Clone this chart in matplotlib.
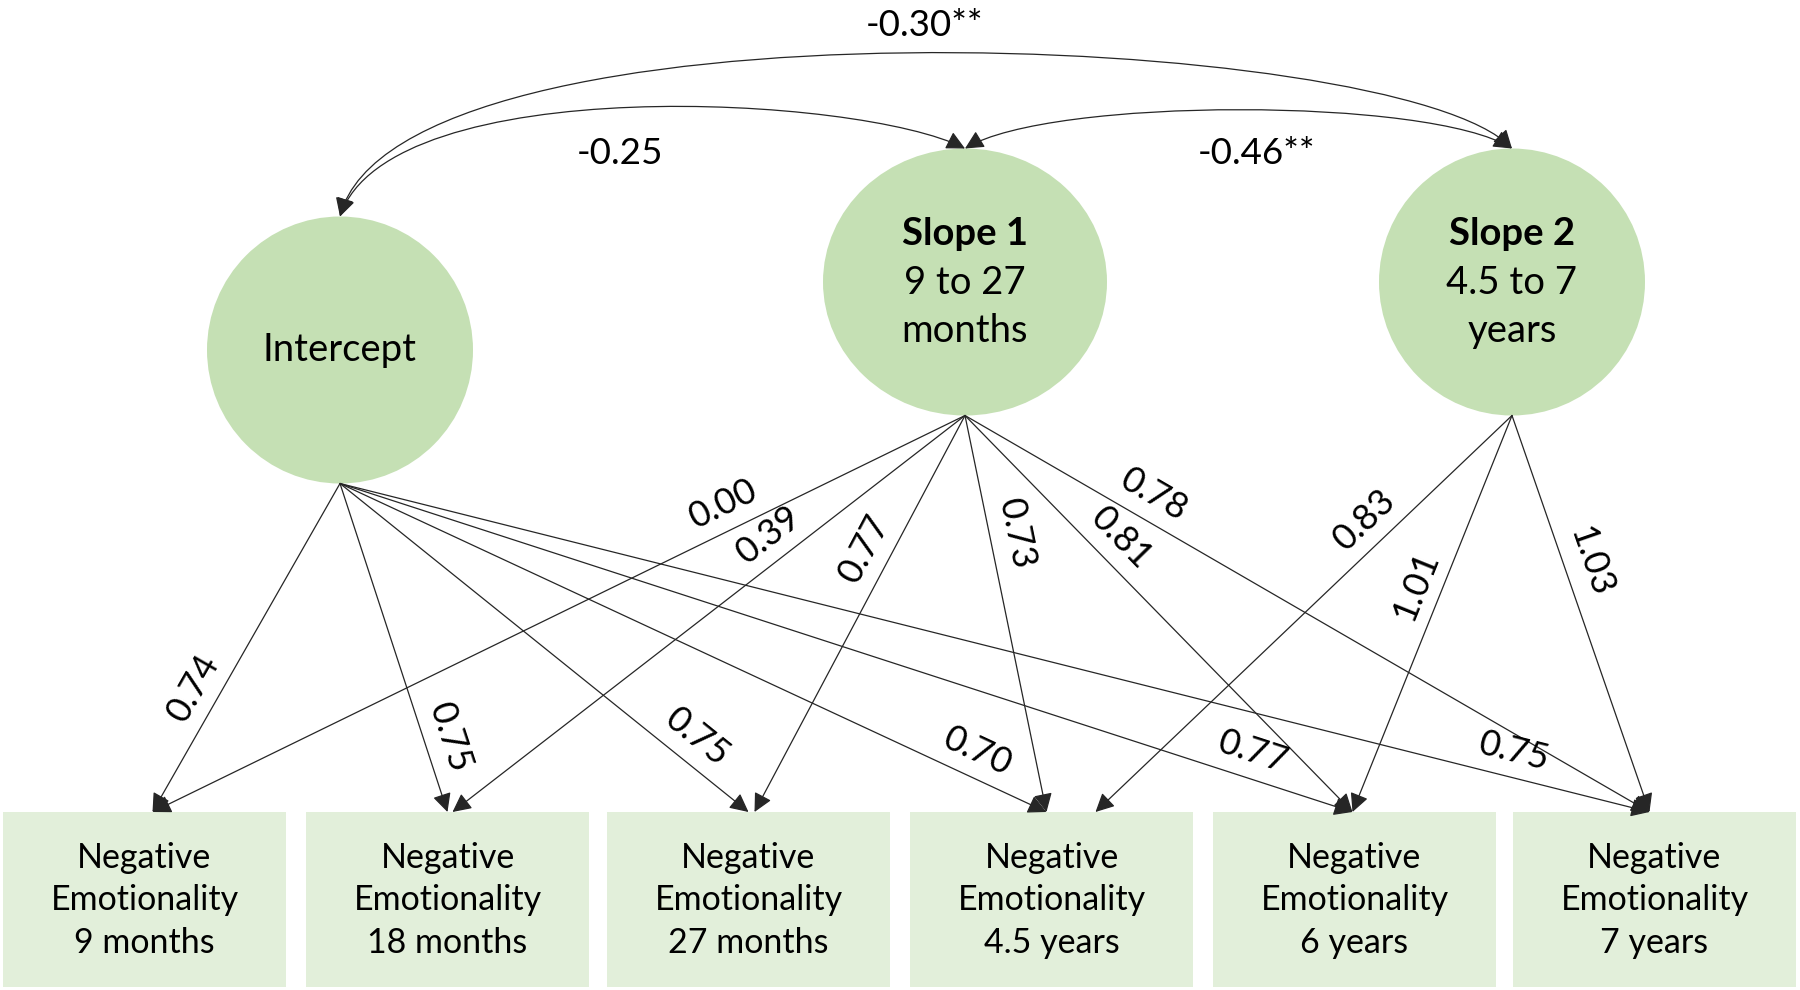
import numpy as np
import matplotlib
matplotlib.use("Agg")
import matplotlib.pyplot as plt
from matplotlib.patches import Ellipse, Rectangle, FancyArrowPatch
from matplotlib.path import Path

plt.rcParams['font.family'] = ['Lato', 'DejaVu Sans']

# ---------------- data ----------------
latent_names = ["Intercept", "Slope 1", "Slope 2"]
latent_subtitles = ["", "9 to 27\nmonths", "4.5 to 7\nyears"]
indicator_labels = [
    "Negative\nEmotionality\n9 months",
    "Negative\nEmotionality\n18 months",
    "Negative\nEmotionality\n27 months",
    "Negative\nEmotionality\n4.5 years",
    "Negative\nEmotionality\n6 years",
    "Negative\nEmotionality\n7 years",
]
intercept_loadings = [0.74, 0.75, 0.75, 0.70, 0.77, 0.75]
slope1_loadings = [0.00, 0.39, 0.77, 0.73, 0.81, 0.78]
slope2_loadings = [None, None, None, 0.83, 1.01, 1.03]
loadings = [intercept_loadings, slope1_loadings, slope2_loadings]

cov_pairs = [(0, 1), (0, 2), (1, 2)]
cov_values = [-0.25, -0.30, -0.46]
cov_stars = ["", "**", "**"]

# ---------------- layout (pixel space) ----------------
W, H = 1800, 990
circle_fill = "#c5e0b4"
box_fill = "#e2efda"
line_col = "#262626"

latent_centers = [(340, 350), (965, 282), (1512, 282)]
latent_widths = [266, 284, 266]
latent_height = 267
latent_ry = latent_height / 2

box_left = [3, 306, 607, 910, 1213, 1513]
box_w = 283
box_top, box_bottom = 812, 987

tip_offsets = [
    [8, 0, 0, -5, -2, -5],
    [8, 5, 6, -5, -2, -5],
    [0, 0, 0, 44, -2, -5],
]
label_t = [
    [0.662, 0.797, 0.834, 0.887, 0.894, 0.892],
    [0.283, 0.352, 0.367, 0.313, 0.355, 0.257],
    [0.0, 0.0, 0.0, 0.31, 0.455, 0.39],
]
label_off = 26

# cubic bezier control points for the covariance arcs
cov_ctrl = [
    [(390, 70), (860, 95)],
    [(400, -10), (1400, 30)],
    [(1050, 97), (1430, 97)],
]
cov_label_pos = [(620, 153), (925, 25), (1257, 153)]

fig = plt.figure(figsize=(W / 100, H / 100), dpi=100)
ax = fig.add_axes([0, 0, 1, 1])
ax.set_xlim(0, W)
ax.set_ylim(H, 0)
ax.axis("off")

# latent ellipses
for i, (cx, cy) in enumerate(latent_centers):
    ax.add_patch(Ellipse((cx, cy), latent_widths[i], latent_height,
                         facecolor=circle_fill, edgecolor="none", zorder=1))
    if latent_subtitles[i]:
        ax.text(cx, cy - 48, latent_names[i], ha="center", va="center",
                fontsize=27.5, fontweight="bold", zorder=5)
        ax.text(cx, cy + 25, latent_subtitles[i], ha="center", va="center",
                fontsize=27.5, linespacing=1.42, zorder=5)
    else:
        ax.text(cx, cy, latent_names[i], ha="center", va="center",
                fontsize=27.5, zorder=5)

# indicator boxes
box_centers = []
for j, x0 in enumerate(box_left):
    ax.add_patch(Rectangle((x0, box_top), box_w, box_bottom - box_top,
                           facecolor=box_fill, edgecolor="none", zorder=1))
    bc = x0 + box_w / 2
    box_centers.append(bc)
    ax.text(bc, (box_top + box_bottom) / 2 + 1, indicator_labels[j], ha="center",
            va="center", fontsize=24.5, linespacing=1.42, zorder=5)

# loading arrows
for i, row in enumerate(loadings):
    sx, sy = latent_centers[i][0], latent_centers[i][1] + latent_ry
    for j, val in enumerate(row):
        if val is None:
            continue
        tx, ty = box_centers[j] + tip_offsets[i][j], box_top
        ax.add_patch(FancyArrowPatch((sx, sy), (tx, ty),
                                     arrowstyle="-|>,head_length=0.6,head_width=0.3",
                                     mutation_scale=19, color=line_col, lw=0.9,
                                     shrinkA=0, shrinkB=0, zorder=3))
        dx, dy = tx - sx, ty - sy
        ang = np.degrees(np.arctan2(-dy, dx))
        if ang > 90:
            ang -= 180
        elif ang <= -90:
            ang += 180
        t = label_t[i][j]
        px, py = sx + t * dx, sy + t * dy
        th = np.radians(ang)
        lx = px - label_off * np.sin(th)
        ly = py - label_off * np.cos(th)
        ax.text(lx, ly, f"{val:.2f}", rotation=ang, rotation_mode="anchor",
                ha="center", va="center", fontsize=26, zorder=6)

# covariance arcs
for k, (a, b) in enumerate(cov_pairs):
    p0 = (latent_centers[a][0], latent_centers[a][1] - latent_ry)
    p3 = (latent_centers[b][0], latent_centers[b][1] - latent_ry)
    c1, c2 = cov_ctrl[k]
    path = Path([p0, c1, c2, p3], [Path.MOVETO, Path.CURVE4, Path.CURVE4, Path.CURVE4])
    ax.add_patch(FancyArrowPatch(path=path,
                                 arrowstyle="<|-|>,head_length=0.6,head_width=0.3",
                                 mutation_scale=19, color=line_col, lw=0.9, zorder=3))
    lx, ly = cov_label_pos[k]
    ax.text(lx, ly, f"{cov_values[k]:.2f}{cov_stars[k]}", ha="center", va="center",
            fontsize=26.5, zorder=6)

fig.savefig("out.png", dpi=100, facecolor="white")
